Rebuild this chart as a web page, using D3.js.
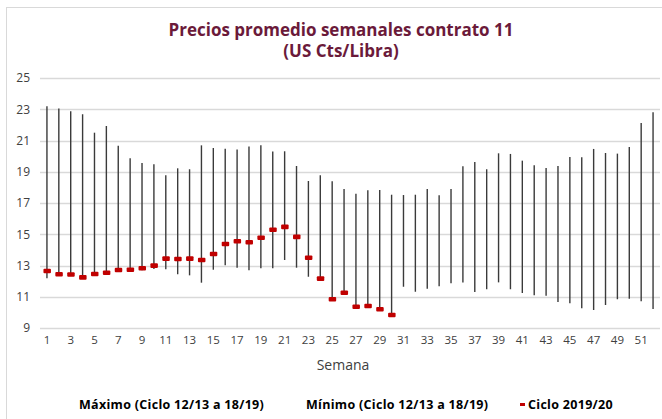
<!DOCTYPE html>
<html>
<head>
<meta charset="utf-8">
<script src="https://cdn.jsdelivr.net/npm/d3@7"></script>
<style>
  body { margin: 0; background: #fff; }
  svg { display: block; font-family: "Open Sans", sans-serif; }
</style>
</head>
<body>
<script>
// Weekly categories
var weeks = [1, 2, 3, 4, 5, 6, 7, 8, 9, 10, 11, 12, 13, 14, 15, 16, 17, 18, 19, 20,
             21, 22, 23, 24, 25, 26, 27, 28, 29, 30, 31, 32, 33, 34, 35, 36, 37, 38, 39, 40,
             41, 42, 43, 44, 45, 46, 47, 48, 49, 50, 51, 52];

// Máximo (Ciclo 12/13 a 18/19)
var maxVals = [23.2, 23.05, 22.87, 22.68, 21.5, 21.93, 20.67, 19.86, 19.56, 19.48,
               18.77, 19.22, 19.16, 20.69, 20.52, 20.48, 20.42, 20.61, 20.69, 20.29,
               20.31, 19.37, 18.41, 18.77, 18.39, 17.9, 17.6, 17.81, 17.83, 17.53,
               17.51, 17.53, 17.9, 17.49, 17.9, 19.35, 19.63, 19.16, 20.18, 20.14,
               19.71, 19.42, 19.24, 19.37, 19.95, 19.93, 20.46, 20.2, 20.16, 20.59,
               22.12, 22.81];

// Mínimo (Ciclo 12/13 a 18/19)
var minVals = [12.18, 12.4, 12.38, 12.2, 12.4, 12.5, 12.68, 12.7, 12.69, 12.78,
               12.76, 12.44, 12.37, 11.9, 12.73, 13.01, 12.86, 12.69, 12.82, 12.82,
               13.35, 12.86, 12.28, 12.1, 10.8, 11.2, 10.35, 10.4, 10.15, 9.78,
               11.64, 11.32, 11.52, 11.67, 11.86, 11.92, 11.3, 11.48, 11.92, 11.48,
               11.24, 11.09, 11.07, 10.66, 10.58, 10.26, 10.15, 10.47, 10.84, 10.88,
               10.71, 10.22];

// Ciclo 2019/20 (weeks reported so far)
var cycleVals = [12.65, 12.44, 12.42, 12.24, 12.46, 12.54, 12.71, 12.73, 12.82, 12.99,
                 13.44, 13.42, 13.44, 13.35, 13.74, 14.38, 14.55, 14.49, 14.78, 15.29,
                 15.47, 14.83, 13.5, 12.16, 10.84, 11.26, 10.36, 10.41, 10.2, 9.83];

var yTicks = [9, 11, 13, 15, 17, 19, 21, 23, 25];
var xTickLabels = weeks.filter(function(w) { return w % 2 === 1; });

var width = 662, height = 419;
var margin = {top: 78, right: 3, bottom: 91, left: 41};

var svg = d3.select("body").append("svg")
    .attr("width", width)
    .attr("height", height);

// frame lines of the original chart box
svg.append("line").attr("x1", 6.5).attr("x2", 6.5).attr("y1", 7).attr("y2", height)
    .style("stroke", "#d9d9d9").style("stroke-width", 1);
svg.append("line").attr("x1", 6).attr("x2", width).attr("y1", 7.5).attr("y2", 7.5)
    .style("stroke", "#d9d9d9").style("stroke-width", 1);

// Title
var title = svg.append("text")
    .attr("text-anchor", "middle")
    .style("font-weight", "bold")
    .style("font-size", "17px")
    .style("fill", "#6b1a3a");
title.append("tspan").attr("x", 341).attr("y", 36).text("Precios promedio semanales contrato 11");
title.append("tspan").attr("x", 341).attr("y", 57).text("(US Cts/Libra)");

// Scales
var x = d3.scaleBand()
    .domain(weeks)
    .range([margin.left, width - margin.right])
    .padding(0);

var y = d3.scaleLinear()
    .domain([9, 25])
    .range([height - margin.bottom, margin.top]);

// Gridlines
svg.append("g")
    .selectAll("line")
    .data(yTicks)
    .enter().append("line")
    .attr("x1", margin.left - 1)
    .attr("x2", width - 2)
    .attr("y1", function(d) { return Math.round(y(d)) + 0.5; })
    .attr("y2", function(d) { return Math.round(y(d)) + 0.5; })
    .style("stroke", "#d9d9d9")
    .style("stroke-width", 1.5);

// Y axis labels
var yAxis = d3.axisLeft(y).tickValues(yTicks).tickSize(0).tickPadding(0);
svg.append("g")
    .attr("transform", "translate(" + 30 + ",0)")
    .call(yAxis)
    .call(function(g) { g.select(".domain").remove(); })
    .selectAll("text")
    .style("font-family", "Open Sans, sans-serif")
    .style("font-size", "12px")
    .style("fill", "#404040");

// X axis labels
var xAxis = d3.axisBottom(x).tickValues(xTickLabels).tickSize(0).tickPadding(0);
svg.append("g")
    .attr("transform", "translate(0," + 336 + ")")
    .call(xAxis)
    .call(function(g) { g.select(".domain").remove(); })
    .selectAll("text")
    .style("font-family", "Open Sans, sans-serif")
    .style("font-size", "11.5px")
    .style("fill", "#404040");

// Axis title
svg.append("text")
    .attr("x", 343)
    .attr("y", 370)
    .attr("text-anchor", "middle")
    .style("font-size", "14px")
    .style("fill", "#404040")
    .text("Semana");

// High-low bars
svg.append("g")
    .selectAll("line")
    .data(weeks)
    .enter().append("line")
    .attr("x1", function(d) { return x(d) + x.bandwidth() / 2; })
    .attr("x2", function(d) { return x(d) + x.bandwidth() / 2; })
    .attr("y1", function(d, i) { return y(maxVals[i]); })
    .attr("y2", function(d, i) { return y(minVals[i]); })
    .style("stroke", "#3a3a3a")
    .style("stroke-width", 1.4);

// Ciclo 2019/20 dashes
svg.append("g")
    .selectAll("rect")
    .data(cycleVals)
    .enter().append("rect")
    .attr("x", function(d, i) { return x(weeks[i]) + x.bandwidth() / 2 - 3.5; })
    .attr("y", function(d) { return y(d) - 2.3; })
    .attr("width", 7.5)
    .attr("height", 4.6)
    .attr("rx", 1)
    .style("fill", "#c00000");

// Legend
var legend = svg.append("g")
    .style("font-weight", "bold")
    .style("font-size", "12.5px")
    .style("letter-spacing", "0.3px")
    .style("fill", "#000");
legend.append("text").attr("x", 79).attr("y", 409).text("Máximo (Ciclo 12/13 a 18/19)");
legend.append("text").attr("x", 306).attr("y", 409).text("Mínimo (Ciclo 12/13 a 18/19)");
legend.append("rect").attr("x", 520).attr("y", 403).attr("width", 5).attr("height", 3).style("fill", "#c00000");
legend.append("text").attr("x", 528).attr("y", 409).text("Ciclo 2019/20");
</script>
</body>
</html>
